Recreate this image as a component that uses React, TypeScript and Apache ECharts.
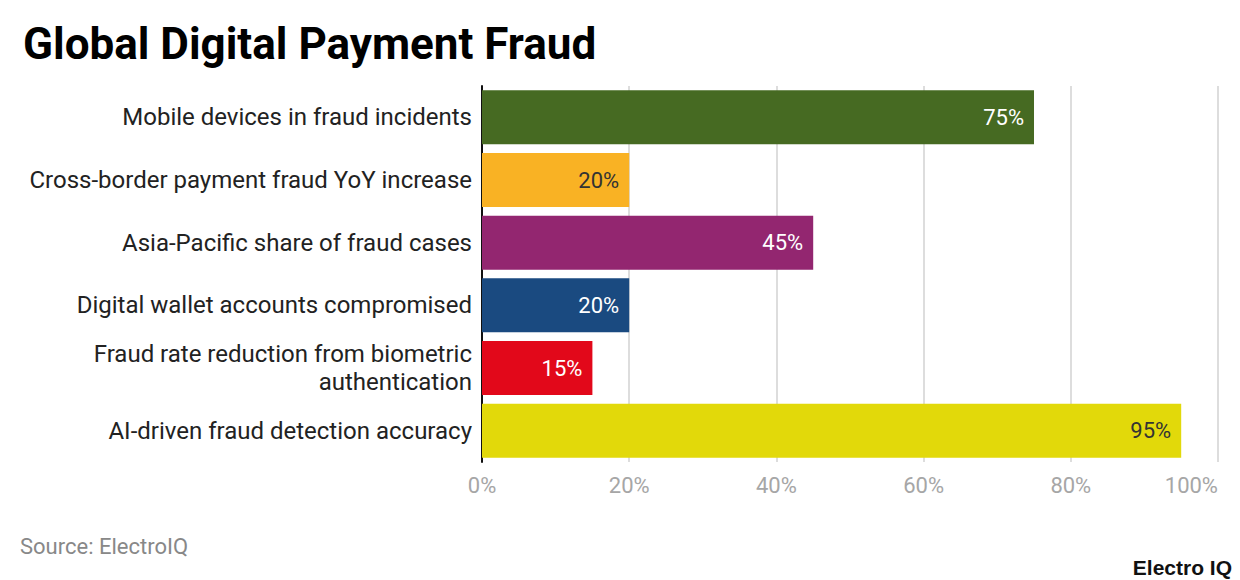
import React, { useEffect, useRef } from "react";
import * as echarts from "echarts";

const categories = [
  "Mobile devices in fraud incidents",
  "Cross-border payment fraud YoY increase",
  "Asia-Pacific share of fraud cases",
  "Digital wallet accounts compromised",
  "Fraud rate reduction from biometric\nauthentication",
  "AI-driven fraud detection accuracy",
];
const values = [75, 20, 45, 20, 15, 95];
const barColors = ["#466A22", "#F9B224", "#932670", "#1A4A80", "#E2081A", "#E2D90A"];
const labelColors = ["#ffffff", "#333333", "#ffffff", "#ffffff", "#ffffff", "#333333"];
const xTicks = [0, 20, 40, 60, 80, 100];

export default function App() {
  const ref = useRef<HTMLDivElement>(null);
  useEffect(() => {
    document.body.style.margin = "0";
    const chart = echarts.init(ref.current!, null, { renderer: "svg" });
    chart.setOption({
      animation: false,
      backgroundColor: "#ffffff",
      textStyle: { fontFamily: "Roboto" },
      title: {
        text: "Global Digital Payment Fraud",
        left: 18,
        top: 17,
        textStyle: { fontFamily: "Roboto", fontWeight: "bold", fontSize: 44, color: "#000" },
      },
      grid: { left: 482, right: 22, top: 86, bottom: 118, containLabel: false },
      xAxis: {
        type: "value",
        min: xTicks[0],
        max: xTicks[xTicks.length - 1],
        interval: 20,
        axisLine: { show: false },
        axisTick: { show: false },
        axisLabel: { formatter: "{value}%", color: "#a6a6a6", fontSize: 22, margin: 12, alignMaxLabel: "right" },
        splitLine: { show: true, lineStyle: { color: "#dddddd", width: 2 } },
      },
      yAxis: {
        type: "category",
        inverse: true,
        data: categories,
        axisLine: { show: true, lineStyle: { color: "#111", width: 2 } },
        axisTick: { show: false },
        axisLabel: { color: "#222", fontSize: 24, margin: 10, lineHeight: 28, align: "right" },
      },
      series: [
        {
          type: "bar",
          barWidth: 54,
          data: values.map((v, i) => ({
            value: v,
            itemStyle: { color: barColors[i] },
            label: { color: labelColors[i] },
          })),
          label: {
            show: true,
            position: "insideRight",
            formatter: "{c}%",
            fontSize: 22,
            distance: 10,
          },
        },
      ],
      graphic: [
        {
          type: "text",
          left: 20,
          top: 535,
          style: { text: "Source: ElectroIQ", fill: "#888", fontSize: 22, fontFamily: "Roboto" },
        },
        {
          type: "text",
          right: 8,
          top: 557,
          style: { text: "Electro IQ", fill: "#111", fontSize: 21, fontWeight: "bold", fontFamily: "Liberation Sans" },
        },
      ],
    });
    return () => chart.dispose();
  }, []);
  return <div ref={ref} style={{ width: 1240, height: 580 }} />;
}
